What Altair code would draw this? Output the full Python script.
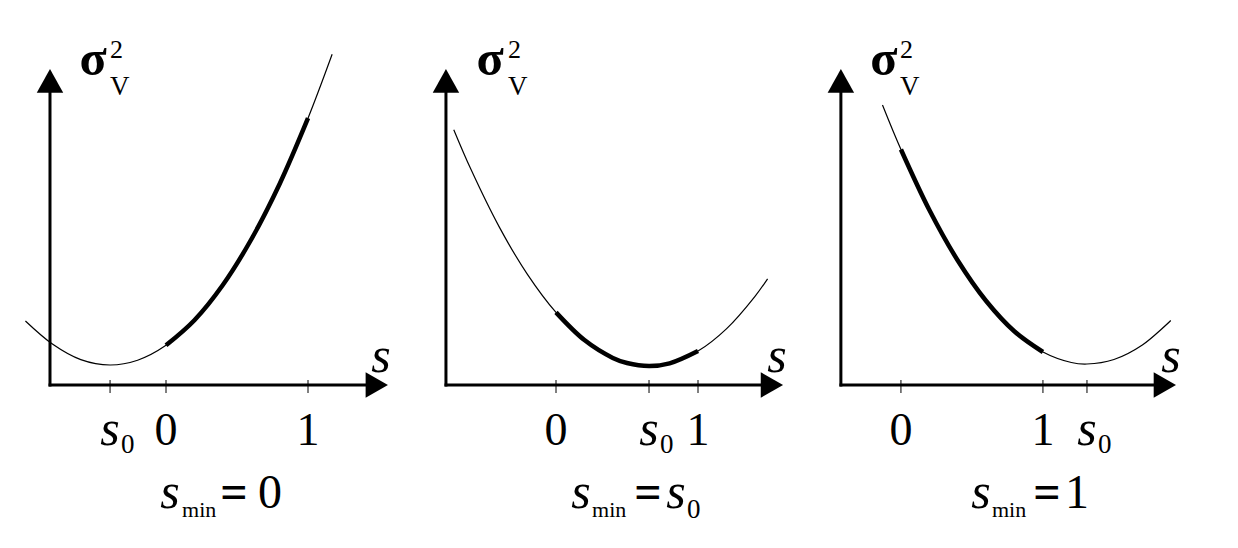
import altair as alt
import pandas as pd

# ---------------- data ----------------
# variance curves sigma_V^2(s) for the three cases (s, value)
curve_s = [
    [-0.99, -0.8, -0.6, -0.394, -0.2, 0.0, 0.2, 0.4, 0.6, 0.8, 1.0, 1.17],
    [-0.72, -0.6, -0.4, -0.2, 0.0, 0.2, 0.4, 0.5, 0.655, 0.8, 1.0, 1.2, 1.4, 1.49],
    [-0.13, 0.0, 0.2, 0.4, 0.6, 0.8, 1.0, 1.2, 1.31, 1.5, 1.7, 1.9],
]
curve_v = [
    [0.64, 0.41, 0.254, 0.20, 0.248, 0.397, 0.648, 1.00, 1.455, 2.01, 2.668, 3.307],
    [2.553, 2.159, 1.581, 1.104, 0.726, 0.449, 0.271, 0.22, 0.19, 0.216, 0.339, 0.561, 0.884, 1.062],
    [2.80, 2.355, 1.75, 1.245, 0.84, 0.535, 0.33, 0.225, 0.21, 0.255, 0.40, 0.645],
]
s0_values = [-0.394, 0.655, 1.31]          # location of the minimum s0
bold_range = [0.0, 1.0]                    # admissible interval drawn bold
tick_labels = ["0", "1"]
bottom_captions = [("0", False), ("s", True), ("1", False)]  # right-hand side of s_min=

# ---------------- layout (pixels -> data units) ----------------
UNIT = 142.0                 # pixels per unit of s
PANEL_W = 407
PANEL_H = 532
Y_MIN, Y_MAX = -1.55, 3.77
panel_left_s = [-1.1127, -0.993, -0.556]
yaxis_s = [-0.817, -0.775, -0.423]
xtip_s = [1.563, 1.599, 1.937]
ytip_v = 3.16
sigma_x = [-0.514, -0.465, -0.120]
sigma_sup_x = [-0.394, -0.338, -0.007]
s_label_x = [1.514, 1.556, 1.901]
cap_s_x = [0.028, 0.176, 0.563]
cap_min_x = [0.113, 0.254, 0.641]
cap_eq_x = [0.479, 0.648, 1.028]
cap_rhs_x = [0.732, 0.845, 1.239]

FONT = "'Liberation Serif', 'Times New Roman', 'DejaVu Serif', serif"
BLACK = "#000000"


def panel(i):
    xs = alt.Scale(domain=[panel_left_s[i], panel_left_s[i] + PANEL_W / UNIT], nice=False, zero=False)
    ys = alt.Scale(domain=[Y_MIN, Y_MAX], nice=False, zero=False)

    def X(f="s"):
        return alt.X(f, type="quantitative", scale=xs, axis=None)

    def Y(f="v"):
        return alt.Y(f, type="quantitative", scale=ys, axis=None)

    curve = pd.DataFrame({"s": curve_s[i], "v": curve_v[i]})
    bold = curve[(curve.s >= bold_range[0]) & (curve.s <= bold_range[1])]

    thin_line = alt.Chart(curve).mark_line(
        color=BLACK, strokeWidth=1.2, interpolate="catmull-rom"
    ).encode(x=X(), y=Y())
    bold_line = alt.Chart(bold).mark_line(
        color=BLACK, strokeWidth=4.5, interpolate="catmull-rom"
    ).encode(x=X(), y=Y())

    # axes lines
    axes_df = pd.DataFrame({
        "x": [yaxis_s[i], yaxis_s[i] - 0.01],
        "x2": [yaxis_s[i], xtip_s[i] - 0.105],
        "y": [-0.015, 0.0],
        "y2": [ytip_v - 0.16, 0.0],
    })
    axes = alt.Chart(axes_df).mark_rule(color=BLACK, strokeWidth=3).encode(
        x=X("x"), x2="x2", y=Y("y"), y2="y2"
    )

    ticks_df = pd.DataFrame({"s": [s0_values[i], 0.0, 1.0]})
    ticks = alt.Chart(ticks_df).mark_rule(color=BLACK, strokeWidth=1).encode(
        x=X(), y=alt.Y(datum=0.05, scale=ys, axis=None), y2=alt.datum(-0.08)
    )

    xarrow = alt.Chart(pd.DataFrame({"s": [xtip_s[i]], "v": [0.0]})).mark_point(
        shape="M0,0L-1.75,-1L-1.75,1Z", size=650, filled=True, fill=BLACK, stroke=None, opacity=1
    ).encode(x=X(), y=Y())
    yarrow = alt.Chart(pd.DataFrame({"s": [yaxis_s[i]], "v": [ytip_v]})).mark_point(
        shape="M0,0L-1,1.8L1,1.8Z", size=700, filled=True, fill=BLACK, stroke=None, opacity=1
    ).encode(x=X(), y=Y())

    # --- texts ---
    normal_center = pd.DataFrame({
        "s": [0.0, 1.0],
        "v": [-0.60, -0.60],
        "t": [tick_labels[0], tick_labels[1]],
        "fs": [46, 46],
    })
    rhs_text, rhs_italic = bottom_captions[i]
    italic_center = pd.DataFrame({
        "s": [s0_values[i], s_label_x[i], cap_s_x[i]],
        "v": [-0.60, 0.13, -1.23],
        "t": ["s", "s", "s"],
        "fs": [50, 50, 50],
    })
    if rhs_italic:
        italic_center = pd.concat([italic_center, pd.DataFrame(
            {"s": [cap_rhs_x[i]], "v": [-1.23], "t": [rhs_text], "fs": [50]})], ignore_index=True)
    else:
        normal_center = pd.concat([normal_center, pd.DataFrame(
            {"s": [cap_rhs_x[i]], "v": [-1.23], "t": [rhs_text], "fs": [48]})], ignore_index=True)

    bold_center = pd.DataFrame({"s": [sigma_x[i], cap_eq_x[i]], "v": [3.10, -1.23],
                                "t": ["σ", "="], "fs": [50, 48]})

    normal_left = pd.DataFrame({
        "s": [s0_values[i] + 11 / UNIT, sigma_sup_x[i], sigma_sup_x[i], cap_min_x[i]],
        "v": [-0.68, 3.27, 2.90, -1.32],
        "t": ["0", "2", "V", "min"],
        "fs": [27, 26, 27, 22],
    })
    if rhs_italic:
        normal_left = pd.concat([normal_left, pd.DataFrame(
            {"s": [cap_rhs_x[i] + 11 / UNIT], "v": [-1.33], "t": ["0"], "fs": [27]})], ignore_index=True)

    def text_layer(df, align, style, weight="normal"):
        return alt.Chart(df).mark_text(
            align=align, baseline="alphabetic", font=FONT, fontStyle=style,
            fontWeight=weight, color=BLACK
        ).encode(x=X(), y=Y(), text="t:N", size=alt.Size("fs:Q", scale=None, legend=None))

    layers = [thin_line, bold_line, axes, ticks, xarrow, yarrow,
              text_layer(normal_center, "center", "normal"),
              text_layer(bold_center, "center", "normal", "bold"),
              text_layer(italic_center, "center", "italic"),
              text_layer(normal_left, "left", "normal")]
    return alt.layer(*layers).properties(width=PANEL_W, height=PANEL_H)


chart = alt.hconcat(*[panel(i) for i in range(3)], spacing=0).properties(
    padding=0, background="white"
).configure_view(stroke=None)

chart.save("out.html", embed_options={"renderer": "svg", "actions": False})
